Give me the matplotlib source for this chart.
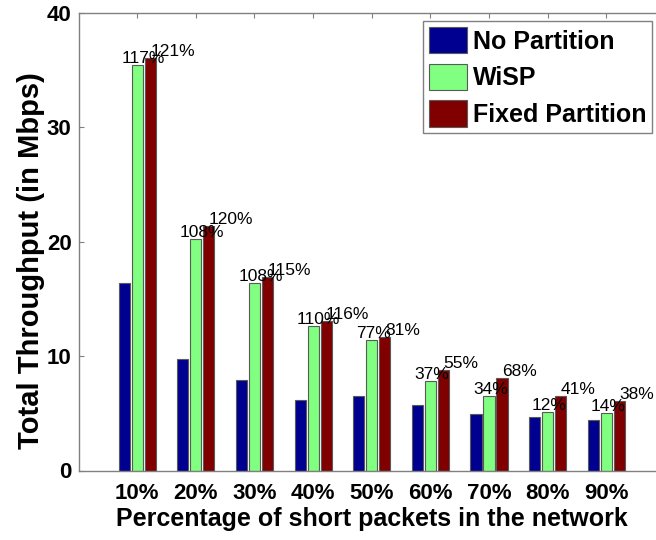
import matplotlib
matplotlib.use("Agg")
import matplotlib.pyplot as plt
import numpy as np

plt.rcParams['font.family'] = ['Liberation Sans', 'DejaVu Sans']

categories = ["10%", "20%", "30%", "40%", "50%", "60%", "70%", "80%", "90%"]
no_partition = [16.4, 9.75, 7.95, 6.15, 6.5, 5.75, 4.9, 4.65, 4.45]
wisp = [35.45, 20.25, 16.4, 12.65, 11.4, 7.85, 6.5, 5.15, 5.0]
fixed_partition = [36.05, 21.4, 16.95, 13.05, 11.7, 8.8, 8.1, 6.5, 6.1]
wisp_gain = [117, 108, 108, 110, 77, 37, 34, 12, 14]
fixed_gain = [121, 120, 115, 116, 81, 55, 68, 41, 38]
series_names = ["No Partition", "WiSP", "Fixed Partition"]
y_ticks = [0, 10, 20, 30, 40]

colors = ["#000090", "#80FF80", "#800000"]

fig = plt.figure(figsize=(6.56, 5.4), dpi=100)
ax = fig.add_axes([78.5 / 656, (540 - 470.5) / 540, 586.5 / 656, 457.5 / 540])

x = np.arange(1, len(categories) + 1)
off = 0.222
w = 0.19
series = [no_partition, wisp, fixed_partition]
for k, (vals, c, name) in enumerate(zip(series, colors, series_names)):
    ax.bar(x + (k - 1) * off, vals, width=w, color=c, edgecolor="#5a5a5a",
           linewidth=0.8, label=name, zorder=2)

for i in range(len(categories)):
    ax.annotate(f"{wisp_gain[i]}%", xy=(x[i], wisp[i]), xytext=(-16, 2),
                textcoords="offset pixels", ha="left", va="baseline",
                fontsize=12.5, zorder=3)
    ax.annotate(f"{fixed_gain[i]}%", xy=(x[i] + off, fixed_partition[i]), xytext=(0, 2),
                textcoords="offset pixels", ha="left", va="baseline",
                fontsize=12.5, zorder=3)

ax.set_xlim(0, 10)
ax.set_ylim(0, 40)
ax.set_xticks(x)
ax.set_xticklabels(categories, fontsize=16, fontweight="bold")
ax.set_yticks(y_ticks)
ax.set_yticklabels([str(t) for t in y_ticks], fontsize=16, fontweight="bold")
ax.tick_params(direction="in", length=3.6, width=0.8, color="#808080",
               top=True, right=True, labeltop=False, labelright=False)
ax.tick_params(axis="x", pad=9)
ax.tick_params(axis="y", pad=5)
for s in ax.spines.values():
    s.set_color("#808080")
    s.set_linewidth(1.0)

ax.set_xlabel("Percentage of short packets in the network", fontsize=18, fontweight="bold")
ax.xaxis.set_label_coords(0.5, -0.079)
ax.set_ylabel("Total Throughput (in Mbps)", fontsize=21, fontweight="bold")
ax.yaxis.set_label_coords(-0.057, 0.458)

leg = ax.legend(loc="upper left", bbox_to_anchor=(422.7 / 656, 1 - 20.7 / 540),
                bbox_transform=fig.transFigure,
                prop={"size": 18, "weight": "bold"}, frameon=True, fancybox=False,
                shadow=False, framealpha=1, borderpad=0.25, handlelength=1.52,
                handleheight=1.25, handletextpad=0.23, labelspacing=0.4,
                borderaxespad=0)
leg.get_frame().set_edgecolor("#808080")
leg.get_frame().set_linewidth(1.0)
leg.set_zorder(5)

fig.savefig("out.png", dpi=100)
